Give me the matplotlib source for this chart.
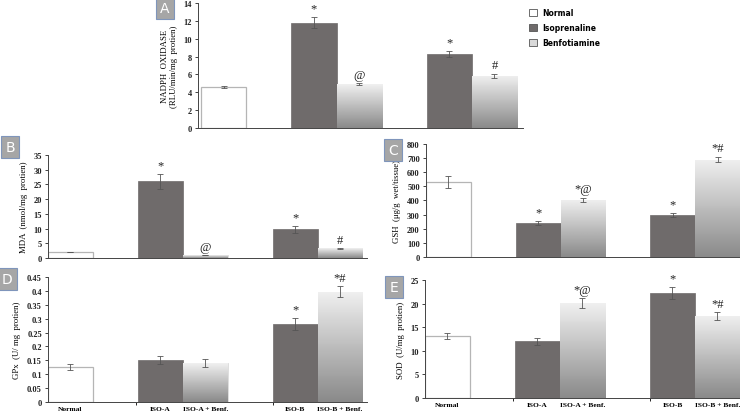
import numpy as np
import matplotlib.pyplot as plt
from matplotlib.patches import Patch

# bar order: Normal, ISO-A, ISO-A + Benf., ISO-B, ISO-B + Benf.
groups = ['Normal', 'ISO-A', 'ISO-A + Benf.', 'ISO-B', 'ISO-B + Benf.']
kinds = ['normal', 'iso', 'benf', 'iso', 'benf']

nadph = [4.55, 11.8, 4.9, 8.3, 5.85]
nadph_err = [0.1, 0.6, 0.1, 0.3, 0.2]
nadph_marks = ['', '*', '@', '*', '#']

mda = [2.0, 26.0, 1.0, 9.8, 3.3]
mda_err = [0.1, 2.7, 0.15, 1.2, 0.15]
mda_marks = ['', '*', '@', '*', '#']

gsh = [530, 240, 405, 298, 690]
gsh_err = [40, 15, 15, 15, 20]
gsh_marks = ['', '*', '*@', '*', '*#']

gpx = [0.125, 0.152, 0.14, 0.282, 0.397]
gpx_err = [0.01, 0.015, 0.014, 0.022, 0.02]
gpx_marks = ['', '', '', '*', '*#']

sod = [13.1, 12.0, 20.1, 22.2, 17.4]
sod_err = [0.7, 0.7, 1.1, 1.3, 0.8]
sod_marks = ['', '', '*@', '*', '*#']

legend_labels = ['Normal', 'Isoprenaline', 'Benfotiamine']

pos = np.array([0, 2, 3, 5, 6])
ISO = '#6f6b6b'
SERIF = 'Liberation Serif'

plt.rcParams['font.family'] = SERIF
plt.rcParams['font.weight'] = 'bold'

fig = plt.figure(figsize=(7.4, 4.14), dpi=100)
grad = np.linspace(0.94, 0.54, 100).reshape(-1, 1)


def panel(rect, vals, errs, marks, ylim, step, ylabel, xlim, xt=False, lab_size=6.3):
    ax = fig.add_axes(rect)
    for p, v, e, k in zip(pos, vals, errs, kinds):
        if k == 'normal':
            b = ax.bar(p, v, 1, color='white', edgecolor='#b5b5b5', lw=0.9)
        elif k == 'iso':
            b = ax.bar(p, v, 1, color=ISO, edgecolor=ISO, lw=0.5)
        else:
            b = ax.bar(p, v, 1, color='none', edgecolor='#d0d0d0', lw=0.5)
            im = ax.imshow(grad, cmap='gray', vmin=0, vmax=1, aspect='auto',
                           extent=[p - 0.5, p + 0.5, 0, v], zorder=1.5)
            im.set_clip_path(b[0])
        ax.errorbar(p, v, yerr=e, fmt='none', ecolor='#555555', elinewidth=0.6,
                    capsize=2, capthick=0.6, zorder=3)
    for p, v, e, m in zip(pos, vals, errs, marks):
        if m:
            ax.text(p, v + e + ylim * 0.02, m, ha='center', va='bottom',
                    fontsize=9, fontweight='normal', color='#222222')
    ax.set_xlim(*xlim)
    ax.set_ylim(0, ylim)
    ax.set_yticks(np.arange(0, ylim + step / 2, step))
    ax.yaxis.set_major_formatter(plt.FuncFormatter(lambda y, _: f'{y:g}'))
    for s in ['top', 'right']:
        ax.spines[s].set_visible(False)
    for s in ['left', 'bottom']:
        ax.spines[s].set_color('#444444')
        ax.spines[s].set_linewidth(0.7)
    ax.tick_params(axis='y', labelsize=6, length=2.5, width=0.6, pad=2, colors='#222222')
    if xt:
        ax.set_xticks(pos)
        ax.set_xticklabels(groups, fontsize=5.4)
        ax.tick_params(axis='x', length=0, pad=3)
        ax.set_xticks([1.45, 4.5], minor=True)
        ax.tick_params(axis='x', which='minor', length=2.5, width=0.6)
    else:
        ax.set_xticks([])
    ax.set_ylabel(ylabel, fontsize=lab_size, labelpad=4)
    return ax


panel([0.2676, 0.6884, 0.439, 0.302], nadph, nadph_err, nadph_marks, 14, 2,
      'NADPH  OXIDASE\n(RLU/min/mg  protien)', (-0.57, 6.63))
panel([0.0649, 0.3744, 0.431, 0.2488], mda, mda_err, mda_marks, 35, 5,
      'MDA  (nmol/mg  protien)', (-0.5, 6.6))
panel([0.5757, 0.3768, 0.4243, 0.273], gsh, gsh_err, gsh_marks, 800, 100,
      'GSH  (μg/g  wet/tissue)', (-0.5, 6.5))
panel([0.0649, 0.0266, 0.431, 0.302], gpx, gpx_err, gpx_marks, 0.45, 0.05,
      'GPx  (U/ mg  protien)', (-0.5, 6.6), xt=True)
panel([0.5743, 0.0362, 0.4257, 0.285], sod, sod_err, sod_marks, 25, 5,
      'SOD  (U/mg  protien)', (-0.5, 6.5), xt=True)

# panel letters
for letter, x, y in [('A', 165, 9), ('B', 10, 148), ('C', 393, 151), ('D', 7, 280), ('E', 394, 288)]:
    fig.text(x / 740, 1 - y / 414, letter, ha='center', va='center', color='white',
             fontsize=10, family='DejaVu Sans', fontweight='normal',
             bbox=dict(boxstyle='square,pad=0.3', facecolor='#a6a6a6', edgecolor='#7f95bb', lw=0.8))

handles = [Patch(facecolor='white', edgecolor='#555555', lw=0.6),
           Patch(facecolor=ISO, edgecolor='#555555', lw=0.6),
           Patch(facecolor='#d9d9d9', edgecolor='#555555', lw=0.6)]
leg = fig.legend(handles, legend_labels, loc='upper left', bbox_to_anchor=(522 / 740, 1 - 2 / 414),
                 frameon=False, prop={'family': 'DejaVu Sans', 'weight': 'bold', 'size': 5.5},
                 handlelength=1.1, handleheight=1.1, labelspacing=0.8, handletextpad=0.7)

plt.savefig('out.png')
